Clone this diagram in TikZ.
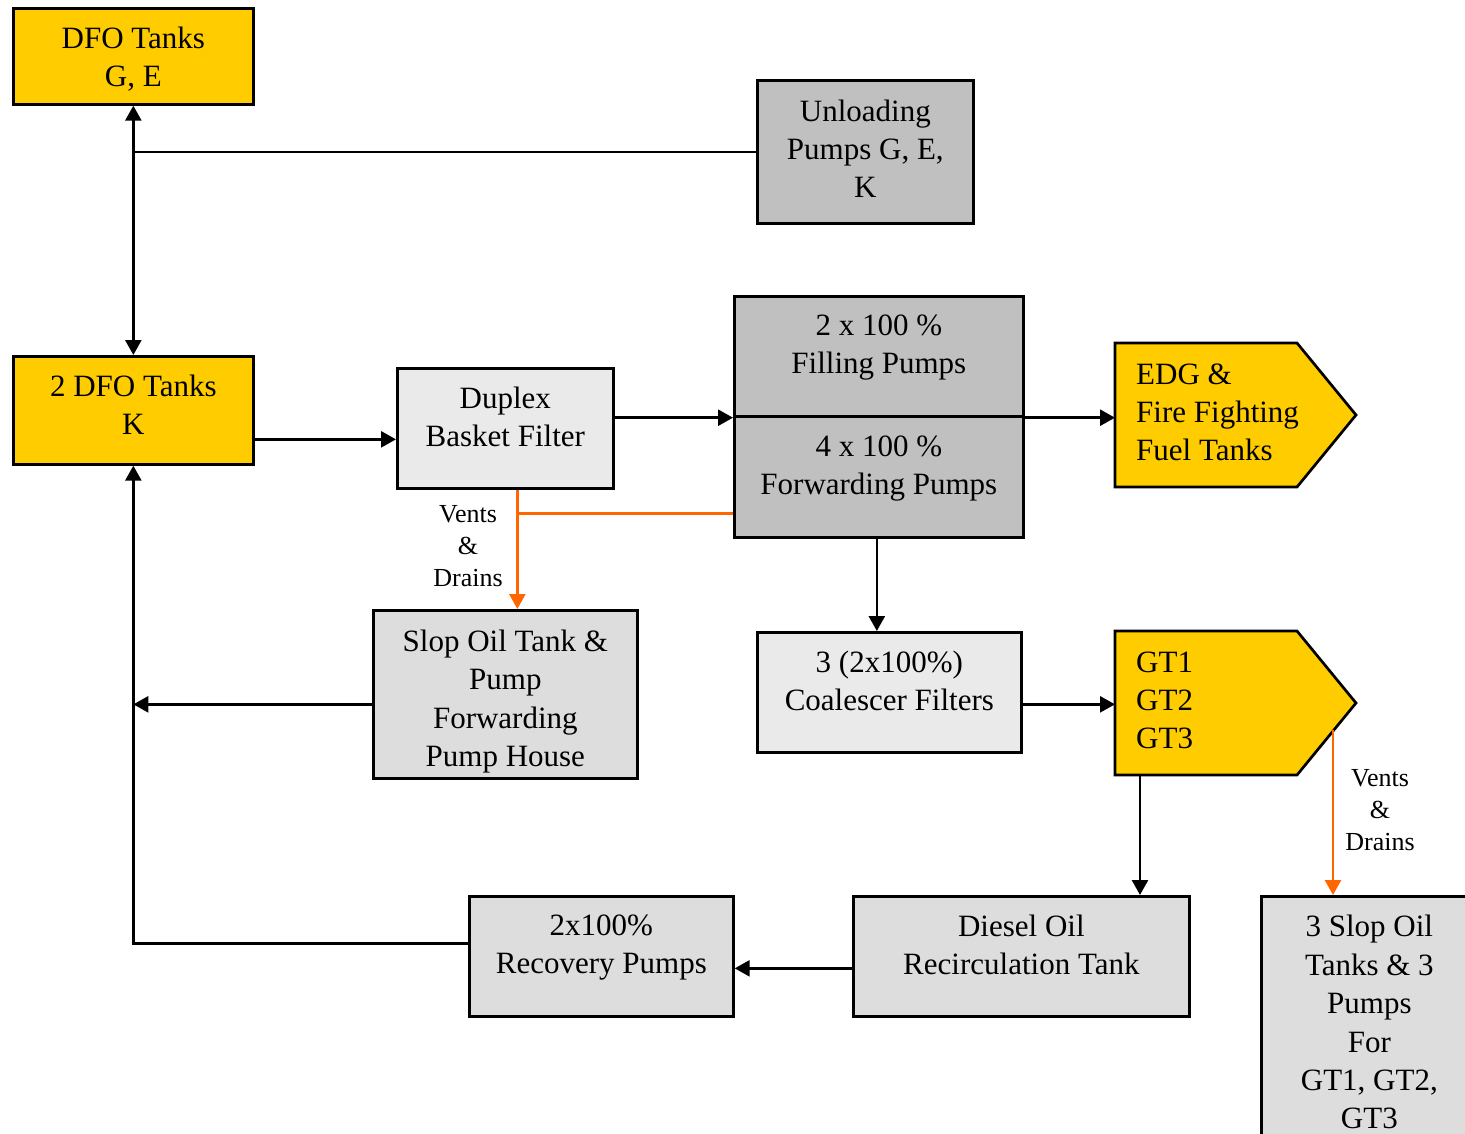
\documentclass[tikz,border=0pt]{standalone}
\usepackage{fontspec}
\setmainfont{Liberation Serif}
\usetikzlibrary{arrows.meta}
\definecolor{fuelyellow}{HTML}{FFCC00}
\definecolor{pumpgray}{HTML}{C0C0C0}
\definecolor{filtergray}{HTML}{EAEAEA}
\definecolor{tankgray}{HTML}{DDDDDD}
\definecolor{drainorange}{HTML}{FF6600}
\begin{document}
\begin{tikzpicture}[x=1pt,y=-1pt,
  box/.style={draw=black, line width=2.7pt, inner sep=0pt, align=center,
    anchor=north west, font=\fontsize{31}{38}\selectfont},
  tallbox/.style={box, font=\fontsize{31}{38.6}\selectfont},
  region/.style={inner sep=0pt, anchor=north west},
  pipe/.style={draw=black, line width=2.6pt},
  tip/.style={-{Triangle[length=15pt,width=16pt]}},
  flow/.style={pipe, tip},
  dualflow/.style={pipe, {Triangle[length=15pt,width=16pt]}-{Triangle[length=15pt,width=16pt]}},
  drainpipe/.style={draw=drainorange, line width=2.6pt},
  drainflow/.style={drainpipe, tip},
  lbl/.style={align=center, inner sep=0pt, font=\fontsize{26}{32}\selectfont},
  tanklbl/.style={align=left, anchor=west, inner sep=0pt, font=\fontsize{31}{38}\selectfont}]
\useasboundingbox (0,0) rectangle (1465,1134);
\clip (0,0) rectangle (1465,1134);

% storage tanks and pumps
\node[box, fill=fuelyellow, minimum width=240pt, minimum height=96pt] (dfoge) at (12,7) {\rule{0pt}{27pt}DFO Tanks\\G, E};
\node[box, fill=pumpgray, minimum width=216pt, minimum height=143pt] (unl) at (756,79) {Unloading\\Pumps G, E,\\K\\[-31pt]};
\node[box, fill=fuelyellow, minimum width=240pt, minimum height=108pt] (dfok) at (12,355) {2 DFO Tanks\\K\\[-26pt]};
\node[box, fill=filtergray, minimum width=216pt, minimum height=120pt] (duplex) at (396,367) {Duplex\\Basket Filter\\[-14pt]};
\node[box, fill=pumpgray, minimum width=289pt, minimum height=120pt] (fill) at (733,295) {2 x 100 \%\\Filling Pumps\\[-14pt]};
\node[box, fill=pumpgray, minimum width=289pt, minimum height=121pt] (fwd) at (733,415) {4 x 100 \%\\Forwarding Pumps\\[-14pt]};
\node[tallbox, fill=tankgray, minimum width=264pt, minimum height=168pt] (slop) at (372,609) {\rule{0pt}{36pt}Slop Oil Tank \&\\Pump\\Forwarding\\Pump House};
\node[box, fill=filtergray, minimum width=264pt, minimum height=120pt] (coal) at (756,631) {3 (2x100\%)\\Coalescer Filters\\[-14pt]};
\node[box, fill=tankgray, minimum width=336pt, minimum height=120pt] (diesel) at (852,895) {Diesel Oil\\Recirculation Tank\\[-14pt]};
\node[box, fill=tankgray, minimum width=264pt, minimum height=120pt] (recov) at (468,895) {2x100\%\\Recovery Pumps\\[-14pt]};
\node[tallbox, fill=tankgray, minimum width=216pt, inner ysep=19pt, font=\fontsize{31}{38.4}\selectfont] (slopgt) at (1260,895) {3 Slop Oil\\Tanks \& 3\\Pumps\\For\\GT1, GT2,\\GT3};

% consumers (pentagon outlines)
\draw[fill=fuelyellow, line width=2.7pt, line join=miter] (1115,343) -- (1297,343) -- (1356,415) -- (1297,487) -- (1115,487) -- cycle;
\node[region, minimum width=241pt, minimum height=144pt] (edg) at (1115,343) {};
\node[tanklbl] (edgtxt) at (1136,412) {EDG \&\\Fire Fighting\\Fuel Tanks};
\draw[fill=fuelyellow, line width=2.7pt, line join=miter] (1115,631) -- (1297,631) -- (1356,703) -- (1297,775) -- (1115,775) -- cycle;
\node[region, minimum width=241pt, minimum height=144pt] (gt) at (1115,631) {};
\node[tanklbl] (gttxt) at (1136,700) {GT1\\GT2\\GT3};

% labels
\node[lbl] (vd1) at (468,546) {Vents\\\&\\Drains};
\node[lbl] (vd2) at (1380,810) {Vents\\\&\\Drains};

% fuel connectors
\draw[dualflow] (dfoge.south) -- (dfok.north);
\draw[pipe] (unl.west) -- (unl.west -| dfoge.south);
\draw[flow] ([yshift=-29pt]dfok.east) -- ([yshift=-29pt]dfok.east -| duplex.west);
\draw[flow] (fill.south west -| duplex.east) -- (fill.south west);
\draw[flow] (fill.south east) -- (fill.south east -| edg.west);
\draw[flow] ([xshift=-2pt]fwd.south) -- ([xshift=-2pt]fwd.south |- coal.north);
\draw[flow] ([yshift=-12pt]coal.east) -- ([yshift=-12pt]coal.east -| gt.west);
\draw[flow] ([xshift=25pt]gt.south west) -- ([xshift=25pt]gt.south west |- diesel.north);
\draw[flow] ([yshift=-12pt]diesel.west) -- ([yshift=-12pt]diesel.west -| recov.east);
\draw[flow] ([yshift=13pt]recov.west) -| (dfok.south);
\draw[flow] ([yshift=-10pt]slop.west) -- ([yshift=-10pt]slop.west -| dfok.south);

% vents and drains
\coordinate (ddrop) at ([xshift=12pt]duplex.south);
\coordinate (dtee) at ([xshift=12pt,yshift=-24pt]duplex.south);
\draw[drainflow] (ddrop) -- (ddrop |- slop.north);
\draw[drainpipe] (dtee) -- (dtee -| fwd.west);
\coordinate (gtdrain) at (1333,730);
\draw[drainflow] (gtdrain) -- (gtdrain |- slopgt.north);
\end{tikzpicture}
\end{document}
